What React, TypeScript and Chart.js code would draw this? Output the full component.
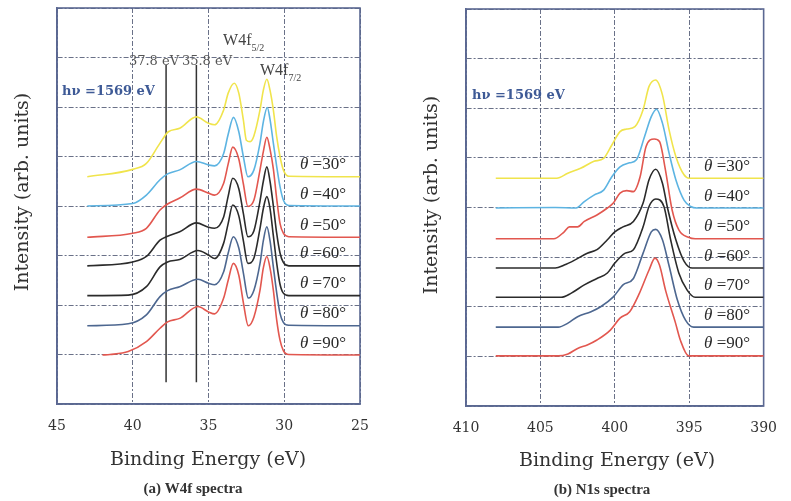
import React, { useEffect, useRef } from "react";
import { Chart, registerables } from "chart.js";

Chart.register(...registerables);

type P = [number, number];

// ---------- W4f spectra (binding energy eV, offset intensity) ----------
const w4fTicks = [45, 40, 35, 30, 25];
const w4f30: P[] = [[43, 4.59], [40, 4.74], [39.1, 4.86], [38.2, 5.27], [37.65, 5.5], [36.9, 5.57], [35.8, 5.8], [35, 5.67], [34.6, 5.64], [34, 5.94], [33.7, 6.28], [33.3, 6.48], [33, 6.28], [32.7, 5.74], [32.5, 5.33], [32.25, 5.3], [32, 5.42], [31.6, 5.94], [31.38, 6.34], [31.15, 6.56], [30.94, 6.34], [30.72, 5.94], [30.5, 5.4], [30.28, 5.0], [30.06, 4.73], [29.7, 4.6], [25, 4.59]];
const w4f40: P[] = [[43, 4.0], [40, 4.05], [39.1, 4.22], [38.2, 4.53], [37.7, 4.65], [36.9, 4.73], [35.8, 4.9], [35, 4.83], [34.6, 4.81], [34, 5.06], [33.7, 5.45], [33.35, 5.79], [33, 5.5], [32.7, 5.0], [32.4, 4.59], [32, 4.73], [31.6, 5.27], [31.38, 5.7], [31.12, 5.99], [30.94, 5.75], [30.72, 5.27], [30.5, 4.8], [30.28, 4.39], [30.06, 4.12], [29.7, 4.01], [25, 4.0]];
const w4f50: P[] = [[43, 3.37], [40, 3.45], [39.1, 3.55], [38.2, 3.92], [37.7, 4.04], [36.9, 4.16], [35.8, 4.34], [35, 4.26], [34.6, 4.22], [34, 4.46], [33.7, 4.85], [33.4, 5.19], [33, 4.95], [32.7, 4.45], [32.4, 3.99], [32, 4.12], [31.6, 4.73], [31.38, 5.1], [31.15, 5.39], [30.94, 5.15], [30.72, 4.75], [30.5, 4.15], [30.28, 3.65], [30.06, 3.45], [29.7, 3.38], [25, 3.37]];
const w4f60: P[] = [[43, 2.79], [40, 2.87], [39.1, 2.98], [38.2, 3.31], [37.7, 3.39], [36.9, 3.48], [35.8, 3.66], [35, 3.57], [34.6, 3.55], [34, 3.78], [33.7, 4.2], [33.4, 4.56], [33, 4.35], [32.7, 3.85], [32.4, 3.38], [32, 3.5], [31.6, 4.1], [31.38, 4.5], [31.15, 4.79], [30.94, 4.5], [30.72, 4.0], [30.5, 3.45], [30.28, 3.05], [30.06, 2.86], [29.7, 2.79], [25, 2.79]];
const w4f70: P[] = [[43, 2.19], [40.3, 2.2], [39.1, 2.37], [38.2, 2.77], [37.7, 2.87], [36.9, 2.92], [35.7, 3.1], [35, 3.01], [34.6, 2.94], [34, 3.25], [33.7, 3.65], [33.4, 4.02], [33, 3.8], [32.7, 3.3], [32.4, 2.84], [32, 2.95], [31.6, 3.55], [31.38, 3.95], [31.15, 4.19], [30.94, 3.95], [30.72, 3.4], [30.5, 2.85], [30.28, 2.42], [30.06, 2.24], [29.7, 2.19], [25, 2.19]];
const w4f80: P[] = [[43, 1.58], [40.3, 1.62], [39.1, 1.8], [38.2, 2.17], [37.7, 2.29], [36.9, 2.37], [35.7, 2.52], [35, 2.44], [34.6, 2.41], [34, 2.67], [33.7, 3.05], [33.36, 3.38], [33, 3.15], [32.7, 2.65], [32.37, 2.14], [32, 2.3], [31.6, 2.84], [31.38, 3.3], [31.15, 3.58], [30.94, 3.3], [30.72, 2.77], [30.5, 2.25], [30.28, 1.83], [30.06, 1.65], [29.7, 1.59], [25, 1.58]];
const w4f90: P[] = [[42, 0.99], [41.5, 1.0], [40.3, 1.06], [39.1, 1.26], [38.2, 1.53], [37.7, 1.66], [36.9, 1.73], [35.7, 1.97], [35, 1.86], [34.6, 1.82], [34, 2.14], [33.7, 2.5], [33.36, 2.84], [33, 2.6], [32.7, 2.05], [32.37, 1.58], [32, 1.76], [31.6, 2.3], [31.38, 2.75], [31.15, 2.98], [30.94, 2.75], [30.72, 2.3], [30.5, 1.7], [30.28, 1.29], [30.06, 1.08], [29.7, 1.0], [25, 0.99]];
const w4fMarkers = [37.8, 35.8];
const w4fMarkerRange = [0.44, 6.85];

// ---------- N1s spectra ----------
const n1sTicks = [410, 405, 400, 395, 390];
const n1s30: P[] = [[408, 4.59], [403.9, 4.59], [403.16, 4.69], [402.3, 4.79], [401.4, 4.93], [400.75, 4.99], [400.2, 5.26], [399.65, 5.53], [399.2, 5.58], [398.65, 5.63], [398.1, 5.97], [397.7, 6.44], [397.25, 6.57], [396.8, 6.27], [396.35, 5.56], [395.9, 5.03], [395.35, 4.66], [395.0, 4.59], [390, 4.59]];
const n1s40: P[] = [[408, 3.99], [404.0, 4.0], [402.6, 3.99], [402.05, 4.12], [401.4, 4.25], [400.75, 4.35], [400.2, 4.62], [399.65, 4.82], [399.0, 4.9], [398.55, 4.96], [398.0, 5.43], [397.55, 5.83], [397.2, 5.98], [396.8, 5.7], [396.35, 5.09], [395.9, 4.56], [395.35, 4.15], [394.9, 4.02], [394.5, 3.99], [390, 3.99]];
const n1s50: P[] = [[408, 3.37], [404.1, 3.37], [403.4, 3.51], [403.05, 3.61], [402.5, 3.61], [402.05, 3.72], [401.2, 3.85], [400.5, 3.99], [400.1, 4.09], [399.65, 4.29], [399.2, 4.34], [398.75, 4.32], [398.3, 4.62], [397.9, 5.23], [397.35, 5.38], [397.0, 5.33], [396.6, 4.76], [396.15, 3.95], [395.7, 3.55], [395.05, 3.4], [394.6, 3.37], [390, 3.37]];
const n1s60: P[] = [[408, 2.78], [404.0, 2.78], [403.4, 2.84], [402.7, 2.94], [401.85, 3.08], [401.2, 3.15], [400.5, 3.35], [400.0, 3.51], [399.45, 3.61], [398.75, 3.72], [398.1, 4.09], [397.7, 4.56], [397.25, 4.77], [396.8, 4.49], [396.45, 3.98], [395.9, 3.35], [395.35, 2.92], [394.8, 2.78], [390, 2.78]];
const n1s70: P[] = [[408, 2.19], [403.6, 2.19], [402.95, 2.27], [402.05, 2.44], [401.2, 2.57], [400.5, 2.68], [400.0, 2.88], [399.3, 3.08], [398.75, 3.15], [398.1, 3.61], [397.7, 4.02], [397.25, 4.17], [396.7, 4.02], [396.25, 3.35], [395.7, 2.68], [395.15, 2.34], [394.6, 2.19], [390, 2.19]];
const n1s80: P[] = [[408, 1.59], [403.8, 1.59], [403.15, 1.67], [402.5, 1.8], [401.6, 1.9], [400.95, 2.0], [400.1, 2.2], [399.45, 2.44], [398.75, 2.57], [398.1, 3.08], [397.55, 3.51], [397.25, 3.56], [396.8, 3.35], [396.35, 2.82], [395.8, 2.14], [395.25, 1.73], [394.7, 1.59], [390, 1.59]];
const n1s90: P[] = [[408, 1.01], [403.8, 1.01], [403.15, 1.05], [402.5, 1.16], [401.85, 1.23], [401.2, 1.33], [400.3, 1.53], [399.65, 1.77], [399.0, 1.9], [398.35, 2.27], [397.7, 2.74], [397.3, 2.98], [397.0, 2.84], [396.58, 2.32], [395.92, 1.67], [395.6, 1.33], [395.04, 1.01], [390, 1.01]];

// ---------- shared ----------
const angles = ["30", "40", "50", "60", "70", "80", "90"];
const w4fBaselines = [4.59, 4.0, 3.37, 2.79, 2.19, 1.58, 0.99];
const n1sBaselines = [4.59, 3.99, 3.37, 2.78, 2.19, 1.59, 1.01];
const seriesColors = ["#f0e44c", "#5db4e2", "#e2574f", "#2b2b2b", "#2b2b2b", "#4d6790", "#e2574f"];

const FRAME = "#5b6892";
const GRID = "rgba(80,88,115,0.85)";
const SERIF = '"DejaVu Serif", serif';
const TIMES = '"Liberation Serif", serif';
const HNU = "#3e5a96";

type Part = { text: string; font: string; color: string; dy?: number };
type Item = {
  parts: Part[];
  x?: number; y?: number; // data coords
  px?: number; py?: number; // pixel coords
  align?: "left" | "center";
  rotate?: boolean;
};

function makePlugin(items: Item[]) {
  return {
    id: "annot",
    beforeDatasetsDraw(chart: any) {
      const { ctx, chartArea: a } = chart;
      ctx.save();
      ctx.strokeStyle = FRAME;
      ctx.lineWidth = 1.6;
      ctx.setLineDash([]);
      ctx.strokeRect(a.left, a.top, a.right - a.left, a.bottom - a.top);
      ctx.restore();
    },
    afterDraw(chart: any) {
      const ctx = chart.ctx as CanvasRenderingContext2D;
      const xs = chart.scales.x;
      const ys = chart.scales.y;
      for (const it of items) {
        const px = it.px !== undefined ? it.px : xs.getPixelForValue(it.x);
        const py = it.py !== undefined ? it.py : ys.getPixelForValue(it.y);
        ctx.save();
        ctx.textBaseline = it.align === "center" ? "middle" : "alphabetic";
        ctx.textAlign = "left";
        let total = 0;
        for (const p of it.parts) {
          ctx.font = p.font;
          total += ctx.measureText(p.text).width;
        }
        ctx.translate(px, py);
        if (it.rotate) ctx.rotate(-Math.PI / 2);
        let cx = it.align === "center" ? -total / 2 : 0;
        for (const p of it.parts) {
          ctx.font = p.font;
          ctx.fillStyle = p.color;
          ctx.fillText(p.text, cx, p.dy || 0);
          cx += ctx.measureText(p.text).width;
        }
        ctx.restore();
      }
    },
  };
}

function thetaItems(baselines: number[], x: number): Item[] {
  return angles.map((a, i) => ({
    x,
    y: baselines[i] + 0.15,
    parts: [
      { text: "\u03b8", font: `italic 17px ${TIMES}`, color: "#2a2a2a" },
      { text: ` =${a}\u00b0`, font: `17px ${TIMES}`, color: "#2a2a2a" },
    ],
  }));
}

type PanelProps = {
  left: number;
  width: number;
  height: number;
  area: { left: number; right: number; top: number; bottom: number };
  series: P[][];
  ticks: number[];
  xMin: number;
  xMax: number;
  items: Item[];
  markers?: number[];
  markerRange?: number[];
};

function Panel(props: PanelProps) {
  const ref = useRef<HTMLCanvasElement | null>(null);
  useEffect(() => {
    const { width, height, area, series, ticks, xMin, xMax, items, markers, markerRange } = props;
    const datasets: any[] = series.map((pts, i) => ({
      data: pts.map(([x, y]) => ({ x, y })),
      borderColor: seriesColors[i],
      borderWidth: 1.6,
      pointRadius: 0,
      fill: false,
      cubicInterpolationMode: "monotone",
    }));
    if (markers && markerRange) {
      markers.forEach((m) => {
        datasets.push({
          data: [{ x: m, y: markerRange[0] }, { x: m, y: markerRange[1] }],
          borderColor: "#333333",
          borderWidth: 1.5,
          pointRadius: 0,
          fill: false,
        });
      });
    }
    const chart = new Chart(ref.current as HTMLCanvasElement, {
      type: "line",
      data: { datasets },
      options: {
        responsive: false,
        animation: false,
        devicePixelRatio: 1,
        parsing: false as any,
        layout: { padding: { left: 0, top: area.top, right: width - area.right, bottom: 0 } },
        plugins: { legend: { display: false }, tooltip: { enabled: false } },
        scales: {
          x: {
            type: "linear",
            reverse: true,
            min: xMin,
            max: xMax,
            afterBuildTicks: (s: any) => {
              s.ticks = ticks.map((v) => ({ value: v }));
            },
            ticks: { font: { family: SERIF, size: 14 }, color: "#333", padding: 14, maxRotation: 0 },
            grid: { color: GRID, lineWidth: 1, drawTicks: false },
            border: { display: true, color: FRAME, width: 1.6, dash: [5, 2, 2, 2] },
            afterFit: (s: any) => {
              s.height = height - area.bottom;
            },
          } as any,
          y: {
            type: "linear",
            min: 0,
            max: 8,
            ticks: { display: false, stepSize: 1 },
            grid: { color: GRID, lineWidth: 1, drawTicks: false },
            border: { display: true, color: FRAME, width: 1.6, dash: [5, 2, 2, 2] },
            afterFit: (s: any) => {
              s.width = area.left;
            },
          } as any,
        },
      },
      plugins: [makePlugin(items)],
    });
    return () => chart.destroy();
  }, []);
  return (
    <canvas
      ref={ref}
      width={props.width}
      height={props.height}
      style={{ position: "absolute", left: props.left, top: 0, width: props.width, height: props.height }}
    />
  );
}

const titleFont = `19px ${SERIF}`;
const captionFont = `bold 15px ${TIMES}`;

const leftItems: Item[] = [
  { px: 23, py: 192, align: "center", rotate: true, parts: [{ text: "Intensity (arb. units)", font: titleFont, color: "#333" }] },
  { px: 208, py: 460, align: "center", parts: [{ text: "Binding Energy (eV)", font: titleFont, color: "#333" }] },
  { px: 193, py: 489, align: "center", parts: [{ text: "(a) W4f spectra", font: captionFont, color: "#333" }] },
  { x: 44.67, y: 6.24, parts: [{ text: "h\u03bd =1569 eV", font: `bold 13px ${SERIF}`, color: HNU }] },
  { x: 38.6, y: 6.91, align: "center", parts: [{ text: "37.8 eV", font: `13px ${SERIF}`, color: "#555" }] },
  { x: 35.1, y: 6.91, align: "center", parts: [{ text: "35.8 eV", font: `13px ${SERIF}`, color: "#555" }] },
  {
    x: 34.04, y: 7.25,
    parts: [
      { text: "W4f", font: `16px ${TIMES}`, color: "#444" },
      { text: "5/2", font: `10px ${TIMES}`, color: "#444", dy: 6 },
    ],
  },
  {
    x: 31.6, y: 6.65,
    parts: [
      { text: "W4f", font: `16px ${TIMES}`, color: "#444" },
      { text: "7/2", font: `10px ${TIMES}`, color: "#444", dy: 6 },
    ],
  },
  ...thetaItems(w4fBaselines, 28.96),
];

const rightItems: Item[] = [
  { px: 32, py: 195, align: "center", rotate: true, parts: [{ text: "Intensity (arb. units)", font: titleFont, color: "#333" }] },
  { px: 217, py: 461, align: "center", parts: [{ text: "Binding Energy (eV)", font: titleFont, color: "#333" }] },
  { px: 202, py: 490, align: "center", parts: [{ text: "(b) N1s spectra", font: captionFont, color: "#333" }] },
  { x: 409.6, y: 6.19, parts: [{ text: "h\u03bd =1569 eV", font: `bold 13px ${SERIF}`, color: HNU }] },
  ...thetaItems(n1sBaselines, 394.0),
];

export default function App() {
  return (
    <div style={{ position: "absolute", left: 0, top: 0, width: 791, height: 501, background: "#fff" }}>
      <Panel
        left={0}
        width={400}
        height={501}
        area={{ left: 57, right: 360, top: 8, bottom: 404 }}
        series={[w4f30, w4f40, w4f50, w4f60, w4f70, w4f80, w4f90]}
        ticks={w4fTicks}
        xMin={25}
        xMax={45}
        items={leftItems}
        markers={w4fMarkers}
        markerRange={w4fMarkerRange}
      />
      <Panel
        left={400}
        width={391}
        height={501}
        area={{ left: 66, right: 370, top: 9, bottom: 406 }}
        series={[n1s30, n1s40, n1s50, n1s60, n1s70, n1s80, n1s90]}
        ticks={n1sTicks}
        xMin={390}
        xMax={410}
        items={rightItems}
      />
    </div>
  );
}
